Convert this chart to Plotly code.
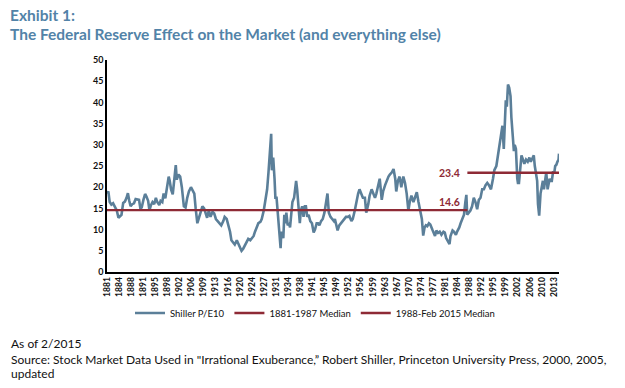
import plotly.graph_objects as go

# Shiller P/E10 (decimal year, value)
years = [1881.0, 1881.4, 1881.8, 1882.3, 1882.8, 1883.3, 1883.9, 1884.4, 1884.8, 1885.3, 1885.8,
         1886.3, 1886.8, 1887.2, 1887.6, 1888.0, 1888.5, 1889.0, 1889.5, 1890.0, 1890.5, 1890.9,
         1891.3, 1891.8, 1892.3, 1892.7, 1893.2, 1893.6, 1894.0, 1894.5, 1895.0, 1895.5, 1895.9,
         1896.5, 1896.9, 1897.4, 1897.8, 1898.3, 1898.8, 1899.3, 1899.6, 1900.0, 1900.5, 1900.9,
         1901.4, 1901.7, 1902.2, 1902.7, 1903.2, 1903.8, 1904.3, 1904.8, 1905.3, 1905.9, 1906.4,
         1906.9, 1907.3, 1907.8, 1908.3, 1908.8, 1909.3, 1909.8, 1910.3, 1910.7, 1911.2, 1911.7,
         1912.3, 1912.8, 1913.3, 1913.9, 1914.5, 1914.9, 1915.5, 1915.9, 1916.5, 1916.9, 1917.5,
         1917.9, 1918.5, 1918.9, 1919.5, 1919.9, 1920.5, 1920.9, 1921.4, 1921.9, 1922.5, 1922.9,
         1923.5, 1923.9, 1924.5, 1924.9, 1925.5, 1925.9, 1926.5, 1926.9, 1927.5, 1927.9, 1928.5,
         1928.9, 1929.3, 1929.7, 1929.9, 1930.3, 1930.7, 1930.95, 1931.3, 1931.6, 1931.9, 1932.3,
         1932.5, 1932.7, 1933.0, 1933.3, 1933.6, 1933.9, 1934.2, 1934.6, 1935.0, 1935.3, 1935.7,
         1936.0, 1936.5, 1937.1, 1937.4, 1937.8, 1938.2, 1938.5, 1938.9, 1939.3, 1939.7, 1940.0,
         1940.4, 1940.8, 1941.3, 1941.8, 1942.3, 1942.7, 1943.2, 1943.6, 1944.0, 1944.5, 1945.0,
         1945.5, 1946.0, 1946.4, 1946.8, 1947.3, 1947.8, 1948.3, 1948.6, 1949.0, 1949.4, 1949.9,
         1950.4, 1950.9, 1951.4, 1951.9, 1952.5, 1952.9, 1953.5, 1953.9, 1954.5, 1954.9, 1955.5,
         1955.9, 1956.5, 1956.9, 1957.5, 1957.9, 1958.5, 1958.9, 1959.5, 1959.9, 1960.5, 1960.9,
         1961.5, 1961.9, 1962.5, 1962.9, 1963.5, 1963.9, 1964.5, 1964.9, 1965.5, 1966.0, 1966.5,
         1966.8, 1967.3, 1967.8, 1968.3, 1968.9, 1969.4, 1969.9, 1970.4, 1970.8, 1971.3, 1971.9,
         1972.5, 1972.9, 1973.4, 1973.9, 1974.4, 1974.8, 1975.2, 1975.6, 1976.0, 1976.5, 1976.9,
         1977.5, 1977.9, 1978.3, 1978.7, 1979.2, 1979.7, 1980.2, 1980.8, 1981.2, 1981.6, 1982.0,
         1982.6, 1982.9, 1983.5, 1983.9, 1984.5, 1984.9, 1985.5, 1985.9, 1986.5, 1986.9, 1987.3,
         1987.6, 1987.85, 1988.3, 1988.8, 1989.3, 1989.8, 1990.3, 1990.8, 1991.3, 1991.8, 1992.3,
         1992.8, 1993.3, 1993.8, 1994.3, 1994.9, 1995.5, 1995.9, 1996.5, 1996.9, 1997.4, 1997.8,
         1998.3, 1998.7, 1998.95, 1999.3, 1999.6, 1999.95, 2000.3, 2000.7, 2000.95, 2001.3, 2001.7,
         2001.95, 2002.3, 2002.7, 2002.9, 2003.2, 2003.6, 2003.95, 2004.4, 2004.8, 2005.3, 2005.8,
         2006.3, 2006.7, 2007.3, 2007.6, 2007.9, 2008.3, 2008.6, 2008.85, 2009.2, 2009.6, 2009.9,
         2010.3, 2010.6, 2010.95, 2011.3, 2011.7, 2011.95, 2012.3, 2012.6, 2012.95, 2013.3, 2013.7,
         2013.95, 2014.3, 2014.6, 2014.95, 2015.08]
pe10 = [18.5, 19.0, 16.5, 15.9, 16.2, 15.5, 14.5, 12.8, 13.2, 13.5, 16.3,
        16.6, 17.5, 18.6, 16.8, 15.5, 16.0, 16.2, 17.2, 17.1, 17.0, 15.0,
        15.2, 17.0, 18.4, 17.8, 16.8, 14.5, 15.7, 16.5, 16.0, 17.5, 16.5,
        15.8, 16.8, 16.5, 18.5, 17.4, 19.5, 22.5, 21.5, 19.5, 18.3, 21.0,
        25.2, 21.8, 23.0, 22.5, 20.0, 15.5, 15.2, 17.5, 19.0, 20.0, 19.2,
        18.5, 15.0, 11.5, 12.8, 14.5, 15.5, 15.0, 13.5, 12.8, 14.5, 13.0,
        14.2, 13.8, 12.5, 12.0, 11.5, 11.0, 12.0, 13.0, 12.5, 11.5, 9.5,
        7.5, 6.8, 6.5, 7.5, 6.8, 6.0, 5.0, 5.5, 6.3, 7.5, 7.8,
        7.5, 8.0, 8.5, 9.5, 10.5, 11.5, 11.8, 12.5, 14.5, 17.0, 19.5,
        23.5, 27.5, 32.6, 24.0, 27.0, 22.0, 17.5, 17.5, 14.0, 11.0, 8.0,
        5.6, 9.5, 8.5, 8.0, 13.5, 11.5, 14.0, 11.0, 11.5, 10.5, 14.0,
        16.5, 17.5, 21.5, 19.5, 15.0, 11.5, 14.5, 15.5, 13.0, 15.5, 15.5,
        13.0, 13.5, 12.0, 11.5, 9.3, 10.0, 11.5, 11.5, 11.0, 12.0, 12.5,
        14.0, 17.0, 18.5, 14.0, 13.0, 12.5, 12.0, 12.5, 10.8, 9.8, 11.0,
        11.5, 11.8, 12.5, 13.0, 13.0, 13.2, 12.0, 12.5, 14.5, 16.5, 18.5,
        19.5, 18.5, 17.5, 17.5, 14.0, 16.0, 18.0, 19.5, 18.5, 17.5, 18.5,
        20.5, 22.0, 17.0, 19.0, 20.5, 21.5, 22.5, 23.0, 23.5, 24.3, 22.0,
        19.0, 21.5, 22.5, 20.0, 22.5, 21.0, 18.5, 14.5, 16.5, 18.0, 16.5,
        18.0, 18.8, 16.5, 14.5, 12.5, 8.6, 10.5, 11.0, 10.8, 11.5, 11.2,
        10.0, 9.3, 8.5, 9.8, 9.2, 9.5, 8.8, 9.5, 9.3, 8.0, 7.5,
        6.6, 8.5, 9.8, 9.5, 8.8, 9.6, 10.5, 11.5, 13.0, 13.5, 16.5,
        18.2, 13.5, 14.0, 14.5, 15.5, 17.5, 16.5, 14.8, 17.0, 17.5, 19.5,
        19.5, 20.5, 21.0, 20.5, 19.5, 22.0, 24.0, 25.0, 27.0, 29.0, 32.0,
        34.5, 29.0, 36.5, 40.5, 39.0, 44.2, 43.5, 41.5, 36.5, 32.0, 28.5,
        30.0, 29.0, 22.0, 21.0, 21.0, 25.0, 27.5, 26.5, 25.5, 26.5, 26.0,
        27.0, 26.0, 27.0, 27.5, 25.0, 23.0, 21.5, 16.0, 13.3, 18.5, 20.0,
        21.5, 19.5, 22.0, 23.5, 19.5, 20.5, 22.0, 21.5, 21.5, 23.5, 23.5,
        25.0, 25.3, 26.0, 26.5, 27.9]

median1_years = [1881.0, 1987.9]
median1_value = 14.6
median2_years = [1987.9, 2015.08]
median2_value = 23.4

tick_labels = ["1881", "1884", "1888", "1891", "1895", "1898", "1902", "1906", "1909", "1913",
               "1916", "1920", "1924", "1927", "1931", "1934", "1938", "1941", "1945", "1949",
               "1952", "1956", "1959", "1963", "1967", "1970", "1974", "1977", "1981", "1984",
               "1988", "1992", "1995", "1999", "2002", "2006", "2010", "2013"]
tick_step_months = 43
tick_vals = [1881.0 + i * tick_step_months / 12 for i in range(len(tick_labels))]

BLUE = "#5b7f99"
RED = "#8e2a35"
TITLE = "#5283a8"
FONT = "Lato"

# the page places the figure 8px in from the window's top-left corner
OFF = 8
W, H = 625 - 2 * OFF, 388 - 2 * OFF
L, T, R, B = 107 - OFF, 60 - OFF, 559 - OFF, 272 - OFF


def py(p):
    return (B - (p - OFF)) / (B - T)


def px(p):
    return ((p - OFF) - L) / (R - L)


fig = go.Figure()
fig.add_trace(go.Scatter(x=years, y=pe10, mode="lines", name="Shiller P/E10",
                         line=dict(color=BLUE, width=2.6)))
fig.add_trace(go.Scatter(x=median1_years, y=[median1_value] * 2, mode="lines",
                         name="1881-1987 Median", line=dict(color=RED, width=2.4)))
fig.add_trace(go.Scatter(x=median2_years, y=[median2_value] * 2, mode="lines",
                         name="1988-Feb 2015 Median", line=dict(color=RED, width=2.4)))

fig.add_annotation(x=1982.5, y=median2_value, text="<b>%.1f</b>" % median2_value,
                   showarrow=False, font=dict(color=RED, size=10.5, family=FONT),
                   xanchor="center", yanchor="middle")
fig.add_annotation(x=1982.5, y=median1_value + 1.9, text="<b>%.1f</b>" % median1_value,
                   showarrow=False, font=dict(color=RED, size=10.5, family=FONT),
                   xanchor="center", yanchor="middle")

fig.add_annotation(xref="paper", yref="paper", x=px(9), y=py(15.5), text="<b>Exhibit 1:</b>",
                   showarrow=False, xanchor="left", yanchor="middle", borderpad=0,
                   font=dict(color=TITLE, size=15.5, family=FONT))
fig.add_annotation(xref="paper", yref="paper", x=px(9), y=py(34), borderpad=0,
                   text="<b>The Federal Reserve Effect on the Market (and everything else)</b>",
                   showarrow=False, xanchor="left", yanchor="middle",
                   font=dict(color=TITLE, size=15.5, family=FONT))
foot = ["As of 2/2015",
        "Source: Stock Market Data Used in \"Irrational Exuberance,\u201d Robert Shiller, Princeton University Press, 2000, 2005,",
        "updated"]
for txt, yp in zip(foot, [343.5, 359.5, 373.5]):
    fig.add_annotation(xref="paper", yref="paper", x=px(9), y=py(yp), text=txt,
                       showarrow=False, xanchor="left", yanchor="middle",
                       font=dict(color="#111111", size=12, family=FONT))

fig.update_layout(
    width=W, height=H,
    margin=dict(l=L, r=W - R, t=T, b=H - B, autoexpand=False),
    paper_bgcolor="white", plot_bgcolor="white",
    font=dict(family=FONT, color="#111111"),
    showlegend=True,
    legend=dict(orientation="h", x=px(315), xanchor="center", y=py(313), yanchor="middle",
                font=dict(size=9.5, family=FONT), itemwidth=30, bgcolor="rgba(0,0,0,0)"),
    xaxis=dict(range=[1881.0, 2015.08], tickmode="array", tickvals=tick_vals,
               ticktext=["<b>%s</b>" % t for t in tick_labels], tickangle=-90,
               tickfont=dict(size=8.5, family=FONT), showgrid=False, zeroline=False,
               showline=True, linecolor="black", linewidth=1.5, ticks=""),
    yaxis=dict(range=[0, 50], tickmode="array", tickvals=list(range(0, 51, 5)),
               ticktext=["<b>%d</b>" % v for v in range(0, 51, 5)],
               tickfont=dict(size=9, family=FONT), showgrid=False, zeroline=False,
               showline=True, linecolor="black", linewidth=1.5, ticks=""),
)

fig.write_html("out.html")
